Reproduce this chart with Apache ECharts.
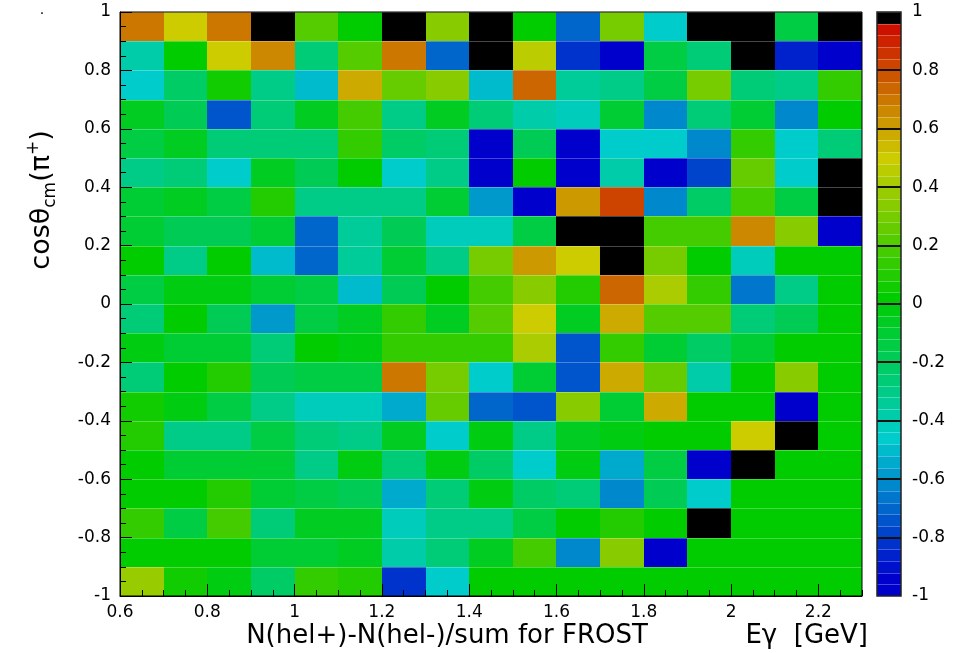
<!DOCTYPE html>
<html><head><meta charset="utf-8">
<script src="https://cdn.jsdelivr.net/npm/echarts@6/dist/echarts.min.js"></script>
<style>html,body{margin:0;padding:0;background:#fff}#c{width:969px;height:653px}</style>
</head><body><div id="c"></div>
<script>
// x bins: E_gamma [GeV] centres (bin width 0.1), y bins: cos(theta_cm) centres (bin width 0.1)
const xCenters = [0.65,0.75,0.85,0.95,1.05,1.15,1.25,1.35,1.45,1.55,1.65,1.75,1.85,1.95,2.05,2.15,2.25];
const yCenters = [0.95,0.85,0.75,0.65,0.55,0.45,0.35,0.25,0.15,0.05,-0.05,-0.15,-0.25,-0.35,-0.45,-0.55,-0.65,-0.75,-0.85,-0.95];
const xBinWidth = 0.1, yBinWidth = 0.1;

// asymmetry values, one array per cos(theta) bin, columns follow xCenters
const row_p95 = [0.70,0.50,0.70,1,0.22,0,1,0.34,1,0,-0.70,0.30,-0.46,1,1,-0.14,1];
const row_p85 = [-0.38,0,0.50,0.66,-0.26,0.22,0.70,-0.70,1,0.46,-0.82,-0.98,-0.14,-0.26,1,-0.86,-0.98];
const row_p75 = [-0.46,-0.22,0.06,-0.30,-0.50,0.58,0.26,0.34,-0.50,0.74,-0.34,-0.30,-0.14,0.30,-0.26,-0.30,0.14];
const row_p65 = [-0.06,-0.18,-0.74,-0.26,-0.06,0.18,-0.30,-0.06,-0.26,-0.38,-0.42,-0.10,-0.62,-0.26,-0.10,-0.62,0];
const row_p55 = [-0.14,-0.06,-0.26,-0.26,-0.26,0.14,-0.22,-0.26,-0.98,-0.18,-0.98,-0.46,-0.46,-0.62,0.14,-0.46,-0.26];
const row_p45 = [-0.30,-0.26,-0.46,-0.06,-0.18,0,-0.46,-0.30,-0.98,0,-0.98,-0.38,-0.98,-0.78,0.26,-0.46,1];
const row_p35 = [-0.10,-0.06,-0.14,0.10,-0.30,-0.30,-0.30,-0.10,-0.58,-0.98,0.62,0.82,-0.62,-0.22,0.18,-0.14,1];
const row_p25 = [-0.10,-0.18,-0.18,-0.10,-0.70,-0.34,-0.18,-0.42,-0.42,-0.14,1,1,0.18,0.18,0.66,0.34,-0.98];
const row_p15 = [0,-0.30,0,-0.50,-0.70,-0.34,-0.10,-0.30,0.30,0.62,0.50,1,0.30,0,-0.42,0,0];
const row_p05 = [-0.14,-0.02,-0.02,-0.10,-0.14,-0.50,-0.18,0,0.18,0.34,0.10,0.74,0.42,0.14,-0.66,-0.30,0];
const row_m05 = [-0.26,0,-0.18,-0.58,-0.14,-0.06,0.14,-0.06,0.22,0.50,-0.06,0.58,0.22,0.22,-0.26,-0.18,0];
const row_m15 = [-0.02,-0.10,-0.10,-0.26,0,-0.02,0.14,0.14,0.14,0.42,-0.74,0.14,-0.10,-0.22,-0.10,0,0];
const row_m25 = [-0.26,0,0.10,-0.18,-0.14,-0.14,0.70,0.30,-0.46,-0.10,-0.74,0.58,0.26,-0.38,0,0.34,0];
const row_m35 = [0.06,-0.02,-0.14,-0.30,-0.42,-0.42,-0.54,0.26,-0.70,-0.74,0.34,-0.10,0.58,0,0,-0.98,0];
const row_m45 = [0.10,-0.30,-0.30,-0.14,-0.26,-0.30,-0.06,-0.46,-0.02,-0.30,-0.06,-0.02,0,0,0.50,1,0];
const row_m55 = [0,-0.10,-0.10,-0.10,-0.30,-0.02,-0.26,-0.02,-0.22,-0.46,-0.02,-0.54,-0.14,-0.98,1,0,0];
const row_m65 = [0,0,0.10,-0.10,-0.14,-0.18,-0.54,-0.26,-0.02,-0.22,-0.26,-0.62,-0.18,-0.46,0,0,0];
const row_m75 = [0.14,-0.14,0.18,-0.26,-0.06,-0.06,-0.42,-0.30,-0.30,-0.14,0,0.10,0,1,0,0,0];
const row_m85 = [0,0,0,-0.10,-0.10,-0.06,-0.38,-0.26,-0.06,0.18,-0.62,0.34,-0.98,0,0,0,0];
const row_m95 = [0.38,0.06,-0.02,-0.22,0.14,0.10,-0.82,-0.46,0,0,0,0,0,0,0,0,0];
const rows = [row_p95,row_p85,row_p75,row_p65,row_p55,row_p45,row_p35,row_p25,row_p15,row_p05,
              row_m05,row_m15,row_m25,row_m35,row_m45,row_m55,row_m65,row_m75,row_m85,row_m95];

// palette (50 colours from -1 to 1, top one black)
const NCOL = 50, ZMIN = -1, ZMAX = 1, CB_MAJOR = 0.2;
function paletteColor(i) {
  const k = i - 25;
  const hex = n => Math.max(0, Math.min(255, n)).toString(16).padStart(2, '0');
  if (k >= 24) return '#000000';
  let r, g, b;
  if (k >= 0) {
    if (k <= 12) { r = 17 * k; g = 204; b = 0; } else { r = 204; g = 204 - 17 * (k - 12); b = 0; }
  } else {
    const s = -k;
    if (s <= 12) { r = 0; g = 204; b = 17 * s; } else { r = 0; g = 204 - 17 * (s - 12); b = 204; }
  }
  return '#' + hex(r) + hex(g) + hex(b);
}
const step = (ZMAX - ZMIN) / NCOL;
const pieces = [];
for (let i = 0; i < NCOL; i++) {
  const lo = +(ZMIN + step * i).toFixed(6), hi = +(ZMIN + step * (i + 1)).toFixed(6);
  const p = { gte: lo, color: paletteColor(i) };
  if (i === NCOL - 1) p.lte = hi + 1e-9; else p.lt = hi;
  pieces.push(p);
}
const cbData = [];
for (let i = 0; i < NCOL; i++) { const c = +(ZMIN + step * (i + 0.5)).toFixed(6); cbData.push([0.5, c, c]); }

const data = [];
yCenters.forEach((y, r) => xCenters.forEach((x, c) => data.push([x, y, rows[r][c]])));

const lineSoft = 'rgba(255,255,255,0.28)';
function renderCell(params, api) {
  const x = api.value(0), y = api.value(1);
  const a = api.coord([x - xBinWidth / 2, y + yBinWidth / 2]);
  const b = api.coord([x + xBinWidth / 2, y - yBinWidth / 2]);
  const l = Math.round(a[0]), t = Math.round(a[1]), r = Math.round(b[0]), bt = Math.round(b[1]);
  return { type: 'group', children: [
    { type: 'rect', shape: { x: l, y: t, width: r - l, height: bt - t }, style: { fill: api.visual('color') } },
    { type: 'line', shape: { x1: l, y1: t + 0.5, x2: r, y2: t + 0.5 }, style: { stroke: lineSoft, lineWidth: 1 } }
  ]};
}
function renderBar(params, api) {
  const y = api.value(1);
  const topVal = y + step / 2;
  const a = api.coord([0, topVal]);
  const b = api.coord([1, y - step / 2]);
  const l = Math.round(a[0]), t = Math.round(a[1]), r = Math.round(b[0]), bt = Math.round(b[1]);
  const q = (topVal - ZMIN) / CB_MAJOR;
  const isMajor = Math.abs(q - Math.round(q)) < 1e-6 && topVal < ZMAX - 1e-6;
  return { type: 'group', children: [
    { type: 'rect', shape: { x: l, y: t, width: r - l, height: bt - t }, style: { fill: api.visual('color') } },
    isMajor
      ? { type: 'line', shape: { x1: l, y1: t, x2: r, y2: t }, style: { stroke: '#111', lineWidth: 2 }, z2: 5 }
      : { type: 'line', shape: { x1: l, y1: t + 0.5, x2: r, y2: t + 0.5 }, style: { stroke: lineSoft, lineWidth: 1 } }
  ]};
}

const tickFont = { fontFamily: 'DejaVu Sans', fontSize: 17, color: '#000' };
const titleFont = 'DejaVu Sans';

const chart = echarts.init(document.getElementById('c'), null, { renderer: 'canvas' });
chart.setOption({
  animation: false,
  backgroundColor: '#fff',
  grid: [
    { left: 120, top: 12, width: 742, height: 584, show: true, borderColor: '#000', borderWidth: 1, backgroundColor: 'transparent', z: 10 },
    { left: 877, top: 12, width: 24, height: 584, show: true, borderColor: '#222', borderWidth: 1.5, backgroundColor: 'transparent', z: 10 }
  ],
  xAxis: [
    { type: 'value', gridIndex: 0, position: 'bottom', min: 0.6, max: 2.3, interval: 0.2, z: 11,
      axisLine: { show: true, onZero: false, lineStyle: { color: '#000', width: 1 } },
      axisTick: { show: true, inside: true, length: 12, lineStyle: { color: '#000', width: 1 } },
      axisLabel: Object.assign({ margin: 8, showMaxLabel: false }, tickFont),
      splitLine: { show: false } },
    { type: 'value', gridIndex: 0, position: 'bottom', min: 0.6, max: 2.3, interval: 0.05, z: 11,
      axisLine: { show: false, onZero: false },
      axisTick: { show: true, inside: true, length: 6, lineStyle: { color: '#000', width: 1 } },
      axisLabel: { show: false }, splitLine: { show: false } },
    { type: 'value', gridIndex: 1, min: 0, max: 1, show: false }
  ],
  yAxis: [
    { type: 'value', gridIndex: 0, position: 'left', min: -1, max: 1, interval: 0.2, z: 11,
      axisLine: { show: true, onZero: false, lineStyle: { color: '#000', width: 1 } },
      axisTick: { show: true, inside: true, length: 12, lineStyle: { color: '#000', width: 1 } },
      axisLabel: Object.assign({ margin: 9 }, tickFont),
      splitLine: { show: false } },
    { type: 'value', gridIndex: 0, position: 'left', min: -1, max: 1, interval: 0.05, z: 11,
      axisLine: { show: false, onZero: false },
      axisTick: { show: true, inside: true, length: 6, lineStyle: { color: '#000', width: 1 } },
      axisLabel: { show: false }, splitLine: { show: false } },
    { type: 'value', gridIndex: 1, position: 'right', min: -1, max: 1, interval: 0.2, z: 11,
      axisLine: { show: false, onZero: false },
      axisTick: { show: false },
      axisLabel: Object.assign({ margin: 11 }, tickFont),
      splitLine: { show: false } }
  ],
  visualMap: { type: 'piecewise', show: false, dimension: 2, seriesIndex: [0, 1], pieces: pieces },
  series: [
    { type: 'custom', xAxisIndex: 0, yAxisIndex: 0, renderItem: renderCell, encode: { x: 0, y: 1 }, data: data, z: 2 },
    { type: 'custom', xAxisIndex: 2, yAxisIndex: 2, renderItem: renderBar, encode: { x: 0, y: 1 }, data: cbData, z: 2 }
  ],
  graphic: [
    { type: 'text', x: 42, y: 200, rotation: Math.PI / 2, z: 20,
      style: { text: '{a|cosθ}{s|cm}{a|(π}{p|+}{a|)}', align: 'center', verticalAlign: 'middle', fill: '#000',
        rich: {
          a: { fontFamily: titleFont, fontSize: 27, lineHeight: 34, fill: '#000' },
          s: { fontFamily: titleFont, fontSize: 17, lineHeight: 14, verticalAlign: 'bottom', fill: '#000' },
          p: { fontFamily: titleFont, fontSize: 17, lineHeight: 14, verticalAlign: 'top', fill: '#000' }
        } } },
    { type: 'text', x: 447, y: 636, z: 20,
      style: { text: 'N(hel+)-N(hel-)/sum for FROST', fontFamily: titleFont, fontSize: 26, fill: '#000', align: 'center', verticalAlign: 'middle' } },
    { type: 'text', x: 868, y: 636, z: 20,
      style: { text: 'Eγ  [GeV]', fontFamily: titleFont, fontSize: 26, fill: '#000', align: 'right', verticalAlign: 'middle' } },
    { type: 'text', x: 42, y: 10, z: 20,
      style: { text: '.', fontFamily: titleFont, fontSize: 14, fill: '#000', align: 'center', verticalAlign: 'middle' } }
  ]
});
</script>
</body></html>
